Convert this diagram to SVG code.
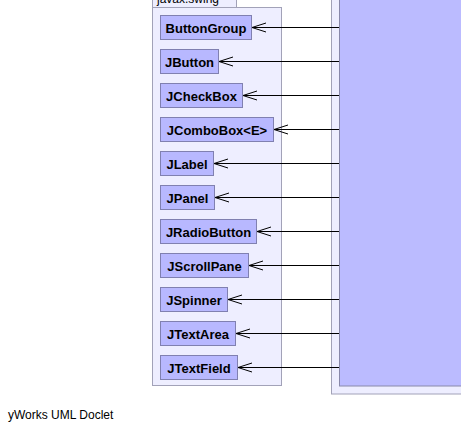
<svg xmlns="http://www.w3.org/2000/svg" width="461" height="432" viewBox="0 0 461 432">
<style>
.pkg{fill:#eeeeff;stroke:#a2a2b8;stroke-width:1}
.node{fill:#b8b8ff;stroke:#8080b0;stroke-width:1}
.big{fill:#bbbbff;stroke:#8888aa;stroke-width:1}
.lbl{font-family:"Liberation Sans",Arial,sans-serif;font-weight:bold;font-size:13px;fill:#000;text-anchor:middle}
.pl{font-family:"Liberation Sans",Arial,sans-serif;font-size:12px;fill:#000}
.edge{stroke:#000;stroke-width:1;fill:none}
</style>
<defs>
<marker id="open" markerUnits="userSpaceOnUse" markerWidth="16" markerHeight="12" refX="15" refY="5" orient="auto" viewBox="0 0 16 10" overflow="visible">
<path d="M1,0.5 L15,5 L1,9.5" fill="none" stroke="#000" stroke-width="1"/>
</marker>
</defs>
<rect width="461" height="432" fill="#ffffff"/>
<g id="pkg-right">
<rect class="pkg" x="331.5" y="-20" width="150" height="414"/>
<rect class="big" id="target" x="339.5" y="-20" width="140" height="406"/>
</g>
<g id="pkg-swing">
<rect class="pkg" x="152.5" y="-16" width="84" height="23.5"/>
<rect class="pkg" x="152.5" y="7.5" width="129" height="378"/>
<text class="pl" x="157" y="3">javax.swing</text>
</g>
<g id="ButtonGroup"><rect class="node" x="160.5" y="15.5" width="91" height="24"/><text class="lbl" x="206" y="32.5">ButtonGroup</text></g>
<g id="JButton"><rect class="node" x="160.5" y="49.5" width="58" height="24"/><text class="lbl" x="189.5" y="66.5">JButton</text></g>
<g id="JCheckBox"><rect class="node" x="160.5" y="83.5" width="82" height="24"/><text class="lbl" x="201.5" y="100.5">JCheckBox</text></g>
<g id="JComboBox"><rect class="node" x="160.5" y="117.5" width="113" height="24"/><text class="lbl" x="217" y="134.5">JComboBox&lt;E&gt;</text></g>
<g id="JLabel"><rect class="node" x="160.5" y="151.5" width="53" height="24"/><text class="lbl" x="187" y="168.5">JLabel</text></g>
<g id="JPanel"><rect class="node" x="160.5" y="185.5" width="54" height="24"/><text class="lbl" x="187.5" y="202.5">JPanel</text></g>
<g id="JRadioButton"><rect class="node" x="160.5" y="219.5" width="96" height="24"/><text class="lbl" x="208.5" y="236.5">JRadioButton</text></g>
<g id="JScrollPane"><rect class="node" x="160.5" y="253.5" width="88" height="24"/><text class="lbl" x="204.5" y="270.5">JScrollPane</text></g>
<g id="JSpinner"><rect class="node" x="160.5" y="287.5" width="67" height="24"/><text class="lbl" x="194" y="304.5">JSpinner</text></g>
<g id="JTextArea"><rect class="node" x="160.5" y="321.5" width="75" height="24"/><text class="lbl" x="198" y="338.5">JTextArea</text></g>
<g id="JTextField"><rect class="node" x="160.5" y="355.5" width="77" height="24"/><text class="lbl" x="199" y="372.5">JTextField</text></g>
<g id="connectors">
<line class="edge" x1="339" y1="27.5" x2="252" y2="27.5" marker-end="url(#open)"/>
<line class="edge" x1="339" y1="61.5" x2="219" y2="61.5" marker-end="url(#open)"/>
<line class="edge" x1="339" y1="95.5" x2="243" y2="95.5" marker-end="url(#open)"/>
<line class="edge" x1="339" y1="129.5" x2="274" y2="129.5" marker-end="url(#open)"/>
<line class="edge" x1="339" y1="163.5" x2="214" y2="163.5" marker-end="url(#open)"/>
<line class="edge" x1="339" y1="197.5" x2="215" y2="197.5" marker-end="url(#open)"/>
<line class="edge" x1="339" y1="231.5" x2="257" y2="231.5" marker-end="url(#open)"/>
<line class="edge" x1="339" y1="265.5" x2="249" y2="265.5" marker-end="url(#open)"/>
<line class="edge" x1="339" y1="299.5" x2="228" y2="299.5" marker-end="url(#open)"/>
<line class="edge" x1="339" y1="333.5" x2="236" y2="333.5" marker-end="url(#open)"/>
<line class="edge" x1="339" y1="367.5" x2="238" y2="367.5" marker-end="url(#open)"/>
</g>
<text class="pl" x="8" y="419" font-size="11">yWorks UML Doclet</text>
</svg>
